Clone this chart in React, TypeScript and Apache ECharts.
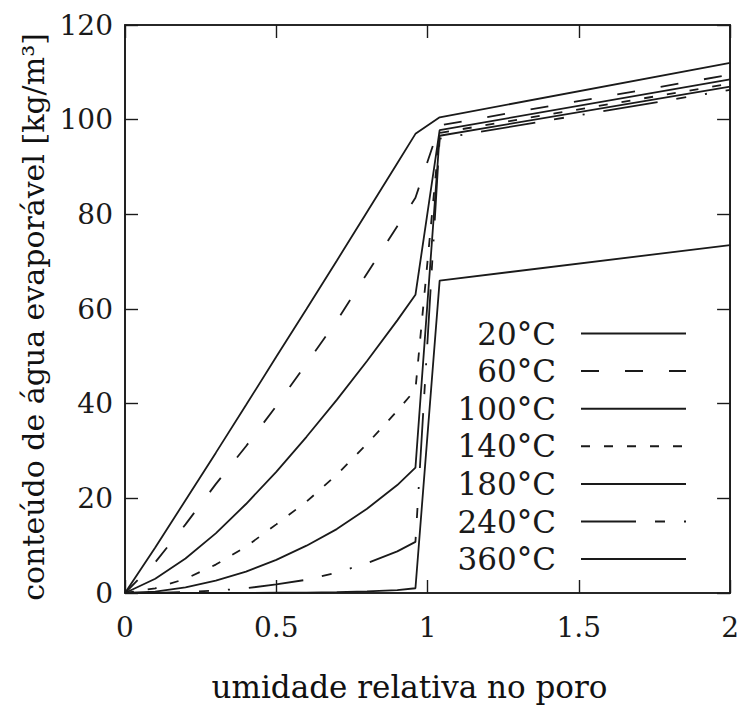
import React, { useEffect, useRef } from "react";
import * as echarts from "echarts";

// relative humidity in the pore (x)
const humidity = [0, 0.1, 0.2, 0.3, 0.4, 0.5, 0.6, 0.7, 0.8, 0.9, 0.96, 1.04, 2];

const seriesNames = ["20°C", "60°C", "100°C", "140°C", "180°C", "240°C", "360°C"];

// evaporable water content [kg/m³] for each temperature
const w20 = [0, 9.6, 19.6, 29.6, 39.7, 49.9, 60, 70.2, 80.5, 90.8, 97, 100.5, 112];
const w60 = [0, 6.5, 14.5, 23, 31, 39.5, 48.5, 57.5, 67.5, 77.5, 83.5, 98.8, 109.5];
const w100 = [0, 3, 7.3, 12.6, 18.8, 25.6, 33, 40.8, 49, 57.6, 63, 97.8, 108.5];
const w140 = [0, 1, 3, 6, 9.8, 14.5, 19.3, 25, 31.5, 38.5, 43, 97.2, 107.6];
const w180 = [0, 0.3, 1.2, 2.6, 4.5, 7, 10, 13.5, 17.8, 22.8, 26.5, 96.6, 107];
const w240 = [0, 0.02, 0.2, 0.5, 1, 1.8, 2.8, 4.3, 6.3, 8.8, 10.8, 96, 106.3];
const w360 = [0, 0, 0, 0, 0.02, 0.05, 0.1, 0.2, 0.35, 0.6, 1, 66, 73.5];

const seriesValues = [w20, w60, w100, w140, w180, w240, w360];

const xTicks = { min: 0, max: 2, interval: 0.5 };
const yTicks = { min: 0, max: 120, interval: 20 };

const dashStyles: (string | number[])[] = [
  "solid",
  [18, 26],
  "solid",
  [9, 14],
  "solid",
  [55, 19, 10, 19, 2, 19],
  "solid",
];

const FONT = "DejaVu Serif";
const INK = "#1a1a1a";

export default function App() {
  const ref = useRef<HTMLDivElement>(null);

  useEffect(() => {
    const chart = echarts.init(ref.current!, null, { renderer: "svg" });

    const axisLine = { show: true, onZero: false, lineStyle: { color: INK, width: 1.6 } };
    const axisTick = { show: true, inside: true, length: 13, lineStyle: { color: INK, width: 1.4 } };

    const option: any = {
      animation: false,
      backgroundColor: "#fff",
      grid: {
        left: 125,
        right: 11,
        top: 25,
        bottom: 115,
        show: true,
        borderColor: INK,
        borderWidth: 1.6,
        backgroundColor: "transparent",
      },
      xAxis: [
        {
          type: "value",
          position: "bottom",
          ...xTicks,
          axisLine,
          axisTick,
          splitLine: { show: false },
          axisLabel: { fontFamily: FONT, fontSize: 28, color: INK, margin: 20 },
          name: "umidade relativa no poro",
          nameLocation: "middle",
          nameGap: 78,
          nameTextStyle: { fontFamily: FONT, fontSize: 31, color: "#111", padding: [0, 36, 0, 0] },
        },
        {
          type: "value",
          position: "top",
          ...xTicks,
          axisLine,
          axisTick,
          splitLine: { show: false },
          axisLabel: { show: false },
        },
      ],
      yAxis: [
        {
          type: "value",
          position: "left",
          ...yTicks,
          axisLine,
          axisTick,
          splitLine: { show: false },
          axisLabel: { fontFamily: FONT, fontSize: 28, color: INK, margin: 12 },
          name: "conteúdo de água evaporável [kg/m³]",
          nameLocation: "middle",
          nameGap: 70,
          nameTextStyle: { fontFamily: FONT, fontSize: 30, color: "#111", padding: [0, 16, 0, 0] },
        },
        {
          type: "value",
          position: "right",
          ...yTicks,
          axisLine,
          axisTick,
          splitLine: { show: false },
          axisLabel: { show: false },
        },
      ],
      legend: {
        orient: "vertical",
        align: "right",
        right: 55,
        top: 318,
        padding: 0,
        itemWidth: 105,
        itemHeight: 14,
        itemGap: 6.6,
        data: seriesNames,
        itemStyle: { opacity: 0 },
        textStyle: { fontFamily: FONT, fontSize: 31, color: INK, padding: [0, 20, 0, 0] },
      },
      series: seriesNames.map((name, i) => ({
        name,
        type: "line",
        xAxisIndex: 0,
        yAxisIndex: 0,
        symbol: "none",
        showSymbol: false,
        lineStyle: { color: INK, width: 1.8, type: dashStyles[i] },
        itemStyle: { color: INK },
        data: humidity.map((h, j) => [h, seriesValues[i][j]]),
      })),
    };

    chart.setOption(option);
    return () => chart.dispose();
  }, []);

  return (
    <div
      ref={ref}
      style={{ position: "absolute", left: 0, top: 0, width: 742, height: 708 }}
    />
  );
}
